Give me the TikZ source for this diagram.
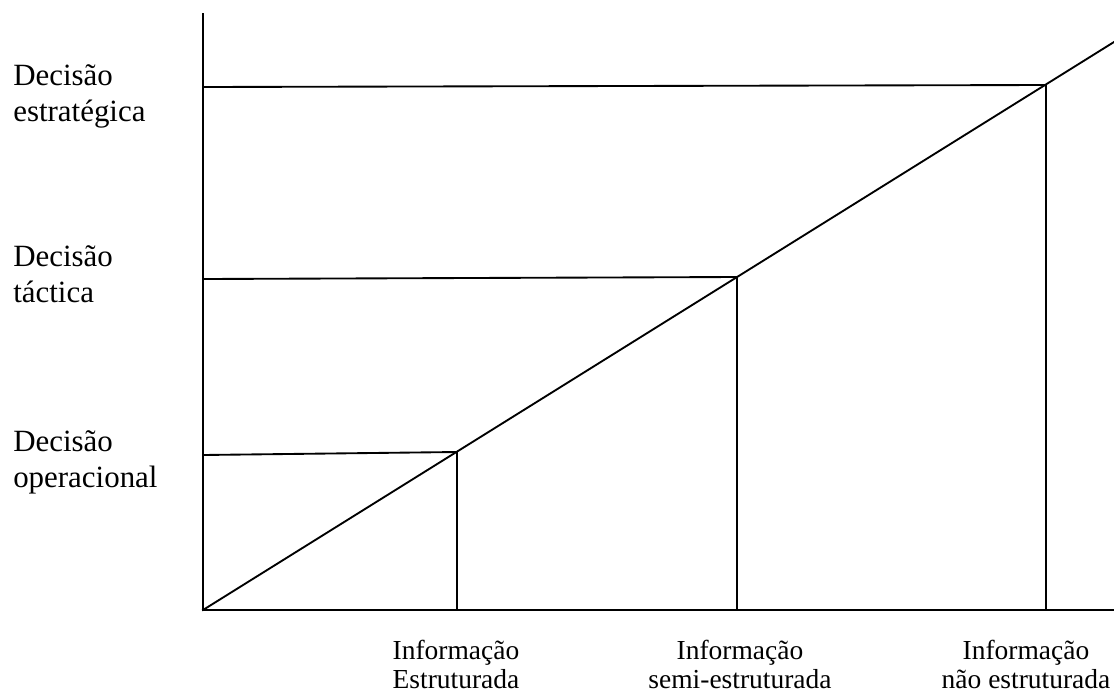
\documentclass[tikz,border=0pt]{standalone}
\usepackage{fontspec}
\setmainfont{Liberation Serif}
\begin{document}
\begin{tikzpicture}[x=0.75pt,y=-0.75pt,
  ln/.style={line width=1.4pt,line cap=rect},
  leftlbl/.style={anchor=base west,inner sep=0pt,align=left,font=\fontsize{23.2}{26.3}\selectfont},
  botlbl/.style={anchor=base,inner sep=0pt,align=center,font=\fontsize{20.6}{21.5}\selectfont}]
\useasboundingbox (0,0) rectangle (1114,693);
% axes
\coordinate (O) at (203,610);
\coordinate (ytop) at (203,14);
\coordinate (xend) at (1114,610);
\coordinate (dend) at (1114,42);
\draw[ln] (ytop) -- (O) -- (xend);
\draw[ln] (O) -- (dend);
% levels
\coordinate (A) at (457,452);
\coordinate (B) at (737,277);
\coordinate (C) at (1046,85);
\coordinate (Al) at (203,455);
\coordinate (Bl) at (203,279);
\coordinate (Cl) at (203,87);
\coordinate (Ab) at (457,610);
\coordinate (Bb) at (737,610);
\coordinate (Cb) at (1046,610);
\draw[ln] (Al) -- (A) -- (Ab);
\draw[ln] (Bl) -- (B) -- (Bb);
\draw[ln] (Cl) -- (C) -- (Cb);
% labels
\node[leftlbl] (ls) at (13,121) {Decisão\\estratégica};
\node[leftlbl] (lt) at (13,302) {Decisão\\táctica};
\node[leftlbl] (lo) at (13,487) {Decisão\\operacional};
\node[botlbl] (b1) at (456,688) {Informação\\Estruturada};
\node[botlbl] (b2) at (740,688) {Informação\\semi-estruturada};
\node[botlbl] (b3) at (1026,688) {Informação\\não estruturada};
\end{tikzpicture}
\end{document}
